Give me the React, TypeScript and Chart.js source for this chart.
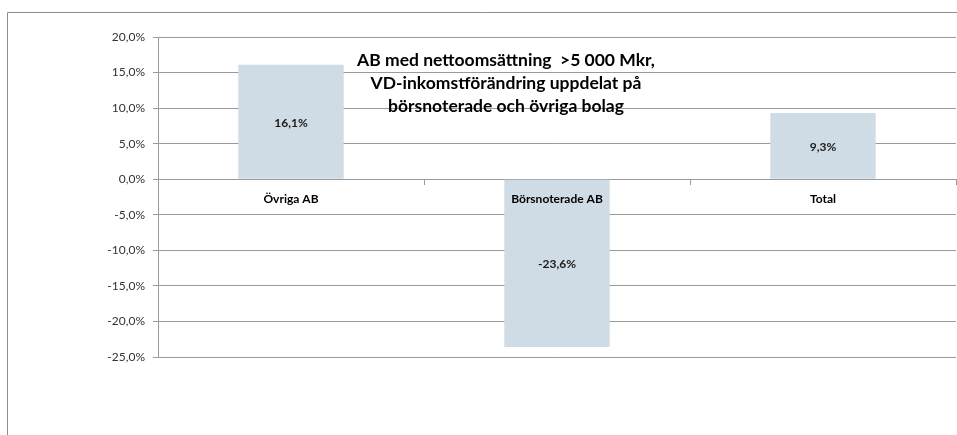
import React, { useEffect, useRef } from "react";
import { Chart, registerables } from "chart.js";

Chart.register(...registerables);

const categories = ["Övriga AB", "Börsnoterade AB", "Total"];
const values = [16.1, -23.6, 9.3];
const titleLines = [
  "AB med nettoomsättning  >5 000 Mkr,",
  "VD-inkomstförändring uppdelat på",
  "börsnoterade och övriga bolag",
];
const yMin = -25;
const yMax = 20;
const yStep = 5;

const FONT = "Lato, 'Open Sans', sans-serif";
const fmt = (v: number) => v.toFixed(1).replace(".", ",") + "%";

const decorPlugin = {
  id: "decor",
  beforeDraw(chart: any) {
    const ctx = chart.ctx;
    ctx.save();
    ctx.strokeStyle = "#8c8c8c";
    ctx.lineWidth = 1;
    ctx.beginPath();
    ctx.moveTo(7.5, 435);
    ctx.lineTo(7.5, 12.5);
    ctx.lineTo(957, 12.5);
    ctx.stroke();
    ctx.restore();
  },
  afterDraw(chart: any) {
    const ctx = chart.ctx;
    ctx.save();
    // data labels
    const meta = chart.getDatasetMeta(0);
    ctx.font = `bold 12px ${FONT}`;
    ctx.fillStyle = "#1a1a1a";
    ctx.textAlign = "center";
    ctx.textBaseline = "middle";
    meta.data.forEach((el: any, i: number) => {
      const p = el.getProps(["x", "y", "base"], true);
      ctx.fillText(fmt(values[i]), p.x, (p.y + p.base) / 2 + 1);
    });
    // title overlay
    ctx.font = `bold 17.5px ${FONT}`;
    ctx.fillStyle = "#000";
    titleLines.forEach((t, i) => {
      ctx.fillText(t, 506, 60 + i * 23);
    });
    ctx.restore();
  },
};

export default function App() {
  const ref = useRef<HTMLCanvasElement>(null);
  useEffect(() => {
    if (!ref.current) return;
    const chart = new Chart(ref.current, {
      type: "bar",
      data: {
        labels: categories,
        datasets: [
          {
            data: values,
            backgroundColor: "#CFDCE5",
            borderWidth: 0,
            categoryPercentage: 0.8,
            barPercentage: 0.495,
          },
        ],
      },
      options: {
        responsive: false,
        animation: false,
        layout: { padding: { left: 0, top: 37, right: 1, bottom: 78 } },
        plugins: {
          legend: { display: false },
          tooltip: { enabled: false },
          title: { display: false },
        },
        scales: {
          x: {
            position: { y: 0 } as any,
            offset: true,
            grid: {
              offset: true,
              drawOnChartArea: false,
              drawTicks: true,
              tickLength: 5,
              color: "#9a9a9a",
            },
            border: { display: true, color: "#9a9a9a" },
            ticks: {
              z: 1,
              padding: 8,
              color: "#000",
              font: { family: FONT, size: 12, weight: "bold" },
              maxRotation: 0,
              autoSkip: false,
            },
          },
          y: {
            min: yMin,
            max: yMax,
            afterFit: (s: any) => {
              s.width = 158;
            },
            grid: {
              color: "#9a9a9a",
              tickLength: 5,
              drawTicks: true,
            },
            border: { display: true, color: "#9a9a9a" },
            ticks: {
              stepSize: yStep,
              padding: 8,
              color: "#333",
              font: { family: FONT, size: 12 },
              callback: (v: any) => fmt(Number(v)),
            },
          },
        },
      },
      plugins: [decorPlugin],
    });
    return () => chart.destroy();
  }, []);
  return (
    <div style={{ position: "fixed", left: 0, top: 0, width: 957, height: 435, background: "#fff" }}>
      <canvas ref={ref} width={957} height={435} />
    </div>
  );
}
